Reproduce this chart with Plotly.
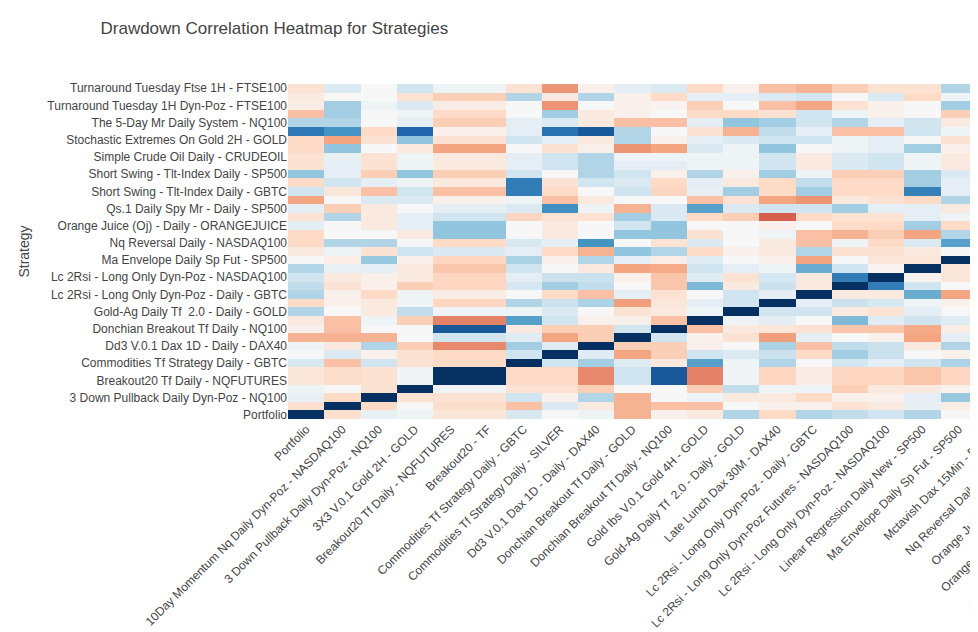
import plotly.graph_objects as go

# strategy names, same order on both axes (row 0 = bottom / column 0 = left)
strategies = [
    "Portfolio",
    "10Day Momentum Nq Daily Dyn-Poz - NASDAQ100",
    "3 Down Pullback Daily Dyn-Poz - NQ100",
    "3X3 V.0.1 Gold 2H - GOLD",
    "Breakout20 Tf Daily - NQFUTURES",
    "Breakout20 - TF",
    "Commodities Tf Strategy Daily - GBTC",
    "Commodities Tf Strategy Daily - SILVER",
    "Dd3 V.0.1 Dax 1D - Daily - DAX40",
    "Donchian Breakout Tf Daily - GOLD",
    "Donchian Breakout Tf Daily - NQ100",
    "Gold Ibs V.0.1 Gold 4H - GOLD",
    "Gold-Ag Daily Tf  2.0 - Daily - GOLD",
    "Late Lunch Dax 30M - DAX40",
    "Lc 2Rsi - Long Only Dyn-Poz - Daily - GBTC",
    "Lc 2Rsi - Long Only Dyn-Poz Futures - NASDAQ100",
    "Lc 2Rsi - Long Only Dyn-Poz - NASDAQ100",
    "Linear Regression Daily New - SP500",
    "Ma Envelope Daily Sp Fut - SP500",
    "Mctavish Dax 15Min - DAX40",
    "Nq Reversal Daily - NASDAQ100",
    "Orange Juice (Oj) - ORANGEJUICE",
    "Orange Juice (Oj) - Daily - ORANGEJUICE",
    "Qs.1 Daily Qqq Mr - Daily - NASDAQ100",
    "Qs.1 Daily Spy Mr - Daily - SP500",
    "Short Swing - Tlt-Index Daily - DAX40",
    "Short Swing - Tlt-Index Daily - GBTC",
    "Short Swing - Tlt-Index Daily - NASDAQ100",
    "Short Swing - Tlt-Index Daily - SP500",
    "Simple Crude Oil 4H - CRUDEOIL",
    "Simple Crude Oil Daily - CRUDEOIL",
    "Stochastic Extremes On Gold 1H - GOLD",
    "Stochastic Extremes On Gold 2H - GOLD",
    "Stochastic Extremes On Gold 4H - GOLD",
    "The 5-Day Mr Daily System - NQ100",
    "The 5-Day Mr Daily System - SP500",
    "Turnaround Tuesday 1H Dyn-Poz - FTSE100",
    "Turnaround Tuesday Dax 1H - DAX40",
    "Turnaround Tuesday Ftse 1H - FTSE100",
]

# lower triangle of the drawdown correlation matrix, read row by row
# (only the first 19 columns are readable, the rest is left empty)
lower_rows = [
    [1.0],
    [-0.17, 1.0],
    [0.08, -0.2, 1.0],
    [0.05, 0.0, -0.15, 1.0],
    [-0.12, -0.18, -0.15, 0.03, 1.0],
    [-0.12, -0.18, -0.15, 0.03, 1.0, 1.0],
    [0.17, -0.3, 0.2, -0.15, -0.2, -0.2, 1.0],
    [0.0, 0.15, -0.05, -0.15, -0.2, -0.2, 0.2, 1.0],
    [0.05, -0.1, 0.3, -0.25, -0.48, -0.48, 0.35, 0.12, 1.0],
    [-0.35, -0.35, -0.35, 0.0, 0.2, 0.2, 0.12, -0.4, -0.25, 1.0],
    [-0.05, -0.3, 0.0, 0.0, 0.85, 0.85, -0.1, -0.25, -0.25, 0.2, 1.0],
    [-0.1, -0.3, 0.05, -0.25, -0.5, -0.5, 0.55, 0.2, -0.05, -0.05, -0.3, 1.0],
    [0.3, 0.0, -0.1, 0.25, 0.03, 0.03, 0.05, 0.15, 0.0, -0.15, -0.1, 0.05, 1.0],
    [-0.2, -0.05, -0.1, 0.05, -0.22, -0.22, 0.3, 0.22, 0.32, -0.42, -0.12, 0.1, 0.2, 1.0],
    [0.3, -0.05, -0.2, 0.05, -0.08, -0.08, 0.0, -0.2, -0.3, 0.1, -0.15, 0.0, 0.2, 0.1, 1.0],
    [0.25, -0.15, -0.05, -0.25, -0.22, -0.22, 0.18, 0.35, 0.25, 0.0, -0.28, 0.45, -0.1, 0.22, -0.1, 1.0],
    [0.2, -0.1, -0.05, -0.1, -0.22, -0.22, 0.1, 0.22, 0.22, -0.05, -0.28, 0.12, -0.15, 0.18, -0.1, 0.7, 1.0],
    [0.3, 0.08, 0.1, -0.1, -0.28, -0.28, 0.2, 0.0, -0.1, -0.4, -0.38, 0.2, 0.1, 0.05, 0.5, 0.2, -0.03, 1.0],
    [0.0, -0.07, 0.38, -0.05, -0.22, -0.22, 0.32, -0.05, 0.3, 0.1, -0.07, 0.12, 0.0, -0.05, -0.4, 0.0, -0.12, -0.12, 1.0],
    [-0.1, 0.05, -0.15, 0.2, 0.15, 0.15, 0.1, -0.2, -0.35, 0.4, 0.3, -0.2, -0.05, -0.1, 0.3, -0.15, -0.15, -0.1, 0.0],
    [-0.2, 0.3, 0.3, 0.02, -0.2, -0.2, 0.17, 0.1, 0.6, 0.0, -0.15, 0.15, 0.0, -0.1, -0.3, 0.05, -0.2, 0.15, 0.55],
    [-0.2, 0.0, 0.0, -0.1, 0.4, 0.4, 0.0, -0.1, 0.0, 0.4, 0.4, -0.15, 0.0, 0.05, -0.3, -0.35, -0.25, -0.4, 0.3],
    [0.1, 0.0, -0.1, 0.1, 0.4, 0.4, 0.0, -0.1, 0.0, 0.2, 0.4, 0.0, 0.0, -0.05, 0.0, -0.2, -0.2, 0.35, -0.2],
    [-0.15, 0.3, -0.1, 0.1, 0.2, 0.2, -0.22, -0.15, -0.15, 0.35, 0.15, -0.2, -0.25, -0.6, -0.2, -0.15, -0.15, 0.1, 0.05],
    [0.1, -0.25, -0.1, 0.0, 0.1, 0.1, 0.15, 0.62, 0.05, -0.35, 0.15, 0.55, 0.15, 0.2, 0.2, 0.35, 0.1, 0.1, -0.1],
    [-0.4, 0.0, 0.15, 0.15, -0.05, -0.05, 0.05, -0.3, -0.1, 0.0, 0.0, -0.3, -0.15, -0.4, -0.45, -0.1, -0.15, -0.2, 0.3],
    [0.2, -0.12, -0.3, 0.2, -0.3, -0.3, 0.7, -0.2, 0.0, 0.2, -0.22, 0.08, 0.35, -0.2, 0.35, -0.2, -0.2, 0.68, 0.1],
    [-0.2, 0.2, 0.1, 0.05, -0.1, -0.1, 0.7, -0.15, 0.2, 0.15, -0.2, 0.1, -0.1, -0.2, 0.25, -0.2, -0.2, 0.35, 0.1],
    [0.4, 0.1, -0.25, 0.4, -0.25, -0.25, 0.2, 0.0, 0.3, 0.2, -0.05, 0.3, -0.05, 0.35, 0.05, -0.25, -0.25, 0.35, 0.15],
    [-0.15, 0.1, -0.15, 0.05, -0.1, -0.1, 0.1, 0.2, 0.3, 0.1, 0.1, 0.05, 0.05, 0.2, -0.1, 0.15, 0.2, 0.05, -0.1],
    [-0.15, 0.08, -0.15, 0.05, -0.1, -0.1, 0.1, 0.2, 0.3, 0.05, 0.05, 0.05, 0.05, 0.2, -0.1, 0.15, 0.2, 0.05, -0.1],
    [-0.2, 0.4, 0.0, -0.1, -0.4, -0.4, 0.0, -0.15, -0.05, -0.45, -0.4, 0.15, 0.05, 0.4, 0.0, 0.05, 0.1, 0.35, -0.05],
    [-0.2, -0.4, -0.15, 0.4, -0.15, -0.15, 0.2, 0.1, -0.1, 0.3, -0.05, 0.1, 0.15, 0.2, 0.2, 0.05, 0.1, 0.0, -0.15],
    [0.72, 0.6, -0.2, 0.8, -0.05, -0.05, 0.1, 0.75, 0.85, 0.3, 0.0, -0.15, -0.35, 0.25, 0.1, -0.3, -0.3, 0.2, 0.05],
    [0.3, 0.3, 0.0, 0.1, -0.25, -0.25, 0.1, 0.15, -0.1, -0.3, -0.3, 0.1, 0.4, 0.35, 0.2, 0.3, 0.1, 0.2, -0.1],
    [-0.3, 0.35, 0.0, 0.05, -0.2, -0.2, 0.0, 0.35, -0.1, -0.05, 0.0, -0.2, -0.2, -0.15, 0.2, 0.05, -0.05, 0.0, -0.25],
    [-0.08, 0.35, 0.05, 0.15, -0.08, -0.08, 0.0, -0.45, 0.0, -0.05, -0.03, -0.25, 0.0, -0.3, -0.4, -0.15, -0.05, 0.0, 0.35],
    [-0.1, 0.0, 0.0, -0.15, -0.25, -0.25, 0.3, -0.1, 0.3, -0.05, -0.2, 0.1, 0.1, 0.15, 0.2, 0.0, 0.15, -0.2, 0.05],
    [-0.15, 0.15, 0.0, 0.2, 0.05, 0.05, -0.15, -0.45, -0.05, 0.1, 0.15, -0.2, -0.05, -0.3, -0.35, -0.25, -0.15, -0.15, 0.3],
]

# full symmetric matrix
n = len(strategies)
corr = [[None] * n for _ in range(n)]
for r, row in enumerate(lower_rows):
    for c, v in enumerate(row):
        corr[r][c] = v
        corr[c][r] = v
for i in range(n):
    corr[i][i] = 1.0

fig = go.Figure(go.Heatmap(
    z=corr,
    x=strategies,
    y=strategies,
    colorscale='RdBu',
    zmin=-1,
    zmax=1,
))

W, H = 1880, 700
fig.update_layout(
    template='none',
    width=W,
    height=H,
    margin=dict(l=280, r=186, t=76, b=289),
    font=dict(family='Arial, Liberation Sans, sans-serif', size=12, color='#444'),
    title=dict(text='Drawdown Correlation Heatmap for Strategies',
               x=0.0492, xanchor='left', y=1 - 20 / H, yanchor='middle',
               font=dict(size=17)),
    xaxis=dict(title=dict(text='Strategy', font=dict(size=14)), tickangle=-45,
               ticks='', showgrid=False),
    yaxis=dict(title=dict(text='Strategy', font=dict(size=14), standoff=14),
               ticks='', showgrid=False),
)

fig.write_html("out.html")
